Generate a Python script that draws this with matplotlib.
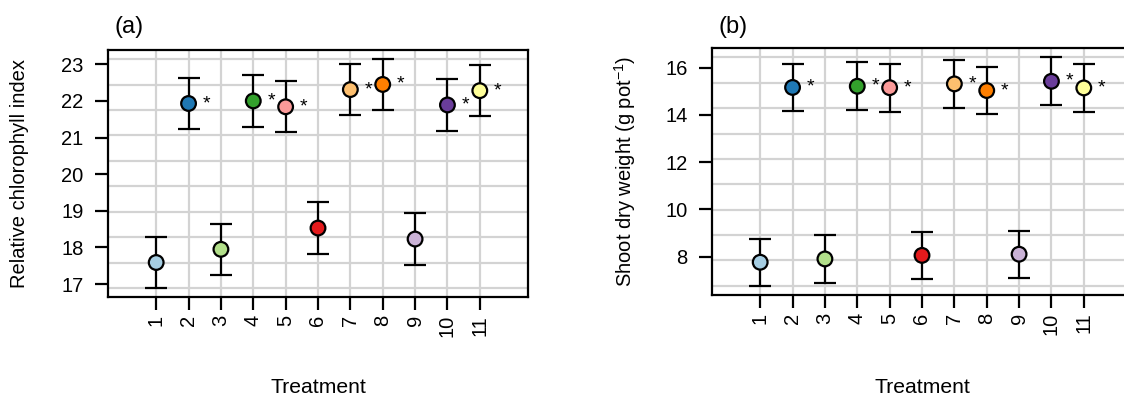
import numpy as np
import matplotlib
matplotlib.use("Agg")
import matplotlib.pyplot as plt

plt.rcParams['font.family'] = ['Liberation Sans', 'DejaVu Sans']
plt.rcParams['mathtext.fontset'] = 'custom'
plt.rcParams['mathtext.rm'] = 'Liberation Sans'
plt.rcParams['mathtext.it'] = 'Liberation Sans:italic'

# ---------------- data ----------------
treatments = [1, 2, 3, 4, 5, 6, 7, 8, 9, 10, 11]
colors = ['#A6CEE3', '#1F78B4', '#B2DF8A', '#33A02C', '#FB9A99', '#E31A1C',
          '#FDBF6F', '#FF7F00', '#CAB2D6', '#6A3D9A', '#FFFF99']

chl_mean = [17.59, 21.93, 17.95, 22.00, 21.84, 18.53, 22.31, 22.45, 18.23, 21.89, 22.28]
chl_err = [0.70, 0.70, 0.70, 0.70, 0.70, 0.70, 0.70, 0.69, 0.70, 0.70, 0.70]

sdw_mean = [7.76, 15.16, 7.90, 15.21, 15.15, 8.05, 15.31, 15.03, 8.10, 15.42, 15.14]
sdw_err = [1.00, 1.01, 1.00, 1.01, 1.01, 1.01, 1.01, 1.00, 1.00, 1.01, 1.00]

significant = [2, 4, 5, 7, 8, 10, 11]

W, H, DPI = 1124, 398, 100
fig = plt.figure(figsize=(W / DPI, H / DPI), dpi=DPI)


def fx(px):
    return px / W


def fy(py):
    return 1 - py / H


def panel(rect, means, errs, ylabel, ylabel_x, title, yticks):
    left, top, right, bottom = rect
    ax = fig.add_axes([fx(left), fy(bottom), fx(right - left), (bottom - top) / H])
    means = np.asarray(means)
    errs = np.asarray(errs)
    x = np.asarray(treatments)
    lo = float(np.min(means - errs))
    hi = float(np.max(means + errs))
    pad = 0.04 * (hi - lo)
    ax.set_ylim(lo - pad, hi + pad)
    ax.set_xlim(0 - 0.04 * 12, 12 + 0.04 * 12)

    # grid
    for gx in x:
        ax.axvline(gx, color='#D3D3D3', lw=1.6, zorder=0)
    for gy in np.linspace(lo, hi, 10):
        ax.axhline(gy, color='#D3D3D3', lw=1.6, zorder=0)

    ax.errorbar(x, means, yerr=errs, fmt='none', ecolor='black',
                elinewidth=1.6, capsize=7.6, capthick=1.6, zorder=2)
    ax.scatter(x, means, s=112, c=colors, edgecolors='black', linewidths=1.6, zorder=3)
    for t in significant:
        i = treatments.index(t)
        ax.text(t + 0.55, means[i], '*', ha='center', va='center', fontsize=14, zorder=4)

    ax.set_xticks(x)
    ax.set_xticklabels([str(t) for t in treatments], rotation=90, fontsize=14.5)
    ax.set_yticks(yticks)
    ax.set_yticklabels([str(v) for v in yticks], fontsize=14.5)
    ax.tick_params(axis='both', direction='out', length=9.6, width=1.6)
    ax.tick_params(axis='y', pad=8.2)
    ax.tick_params(axis='x', pad=3)
    for s in ax.spines.values():
        s.set_linewidth(1.6)

    cx = (left + right) / 2
    fig.text(fx(cx), fy(393), 'Treatment', ha='center', va='baseline', fontsize=15.2)
    fig.text(fx(ylabel_x), fy((top + bottom) / 2), ylabel, rotation=90,
             ha='center', va='center', fontsize=14.5)
    fig.text(fx(left + 6), fy(33), title, ha='left', va='baseline', fontsize=17)
    return ax


panel((108.3, 50.0, 527.7, 297.3), chl_mean, chl_err,
      'Relative chlorophyll index', 20, '(a)', [17, 18, 19, 20, 21, 22, 23])
panel((712.3, 48.3, 1131.7, 295.0), sdw_mean, sdw_err,
      r'Shoot dry weight (g pot$^{-1}$)', 625, '(b)', [8, 10, 12, 14, 16])

fig.savefig('out.png', dpi=DPI)
